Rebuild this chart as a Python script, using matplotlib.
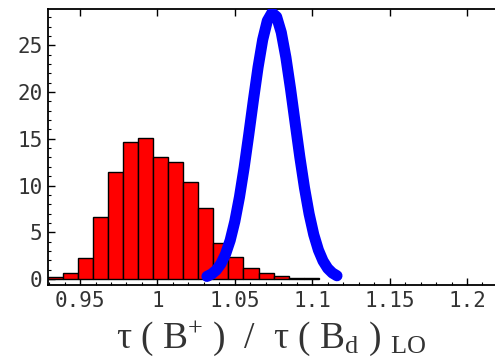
import matplotlib
matplotlib.use('Agg')
import matplotlib.pyplot as plt
import numpy as np
from matplotlib.ticker import MultipleLocator

#### Histogram of the ratio (bins of ~0.0097 starting at the left frame)
bin_start = 0.9295
bin_width = 0.0097
hist_counts = [0.25, 0.6, 2.3, 6.6, 11.5, 14.7, 15.1, 13.0, 12.5, 10.4,
               7.6, 3.8, 2.4, 1.15, 0.68, 0.32, 0.08, 0.06]

#### LO prediction curve
lo_x = [1.032, 1.035, 1.038, 1.041, 1.044, 1.047, 1.050, 1.053, 1.056, 1.059,
        1.062, 1.065, 1.068, 1.071, 1.074, 1.077, 1.080, 1.083, 1.086, 1.089,
        1.092, 1.095, 1.098, 1.101, 1.104, 1.107, 1.110, 1.113, 1.116]
lo_y = [0.28, 0.53, 0.95, 1.63, 2.66, 4.14, 6.17, 8.77, 11.90, 15.44,
        19.13, 22.64, 25.59, 27.62, 28.48, 28.05, 26.38, 23.70, 20.34, 16.67,
        13.05, 9.76, 6.97, 4.75, 3.10, 1.93, 1.14, 0.65, 0.35]

x_ticks = [0.95, 1.0, 1.05, 1.1, 1.15, 1.2]
x_ticklabels = ['0.95', '1', '1.05', '1.1', '1.15', '1.2']
y_ticks = [0, 5, 10, 15, 20, 25]

plt.rcParams['mathtext.fontset'] = 'custom'
plt.rcParams['mathtext.rm'] = 'Liberation Serif'
plt.rcParams['mathtext.it'] = 'Liberation Serif'

fig = plt.figure(figsize=(4.95, 3.61), dpi=100)
ax = fig.add_axes([0.097, 0.2105, 0.903, 0.7645])

edges = bin_start + bin_width * np.arange(len(hist_counts))
ax.bar(edges, hist_counts, width=bin_width, align='edge',
       color='#ff0000', edgecolor='black', linewidth=1.0, zorder=2)
ax.plot(lo_x, lo_y, color='#0000ff', linewidth=8, solid_capstyle='round',
        solid_joinstyle='round', zorder=3)

ax.set_xlim(0.9293, 1.2181)
ax.set_ylim(-0.64, 28.88)

ax.set_xticks(x_ticks)
ax.set_xticklabels(x_ticklabels)
ax.set_yticks(y_ticks)
ax.xaxis.set_minor_locator(MultipleLocator(0.01))
ax.yaxis.set_minor_locator(MultipleLocator(1))
ax.tick_params(which='major', direction='in', length=5, width=1, top=True,
               labelsize=15, pad=4)
ax.tick_params(which='minor', direction='in', length=2.5, width=0.8)
for lab in ax.get_xticklabels() + ax.get_yticklabels():
    lab.set_family('DejaVu Sans Mono')
    lab.set_color('#333333')

ax.spines['right'].set_visible(False)
for s in ['left', 'bottom', 'top']:
    ax.spines[s].set_linewidth(1.3)

ax.set_xlabel('τ ( B$^{+}$ )  /  τ ( B$_{\\rm d}$ ) $_{\\rm LO}$',
              fontsize=27, family='Liberation Serif', color='#333333', labelpad=6)

plt.savefig('out.png', dpi=100)
